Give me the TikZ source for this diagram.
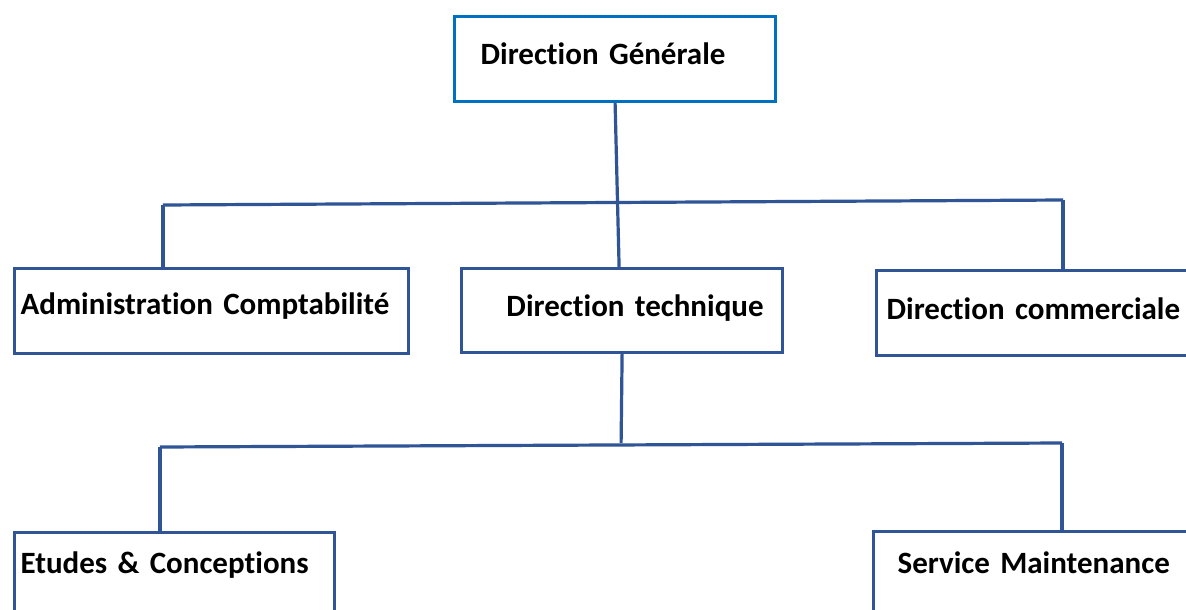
\documentclass[tikz,border=0pt]{standalone}
\usepackage{fontspec}
\setmainfont{Carlito}[Ligatures=NoCommon,WordSpace=0.85]
\usetikzlibrary{positioning,calc}
\definecolor{linkblue}{RGB}{47,85,151}
\definecolor{topblue}{RGB}{0,112,192}
\tikzset{
  unit/.style={draw=linkblue, line width=3.2pt, anchor=north west, inner ysep=0pt,
    font=\fontsize{31}{36}\selectfont\bfseries},
  link/.style={draw=linkblue, line width=3.2pt},
}
\begin{document}
\begin{tikzpicture}[x=1pt,y=-1pt]
  \useasboundingbox (0,0) rectangle (1186,610);
  \fill[white] (0,0) rectangle (1186,610);
  \clip (0,0) rectangle (1186,610);
  % top level
  \node[unit, draw=topblue, inner xsep=26pt, text width=269pt, align=left,
    text height=48pt, text depth=37pt] (dg) at (453,15) {Direction Générale};
  % second level
  \node[unit, inner xsep=6pt, text width=382pt, align=left,
    text height=46pt, text depth=39pt] (ac) at (13,267) {Administration Comptabilité};
  \node[unit, inner xsep=19pt, text width=283pt, align=right,
    text height=48pt, text depth=36pt] (dt) at (460,267) {Direction technique};
  \node[unit, inner xsep=10pt, text width=315pt, align=left,
    text height=49pt, text depth=36pt] (dc) at (875,269) {Direction commerciale};
  % third level
  \node[unit, inner xsep=6pt, text width=308pt, align=left,
    text height=41pt, text depth=100pt] (ec) at (13,531) {Etudes \& Conceptions};
  \node[unit, inner xsep=24pt, text width=291pt, align=left,
    text height=42pt, text depth=100pt] (sm) at (872,530) {Service Maintenance};
  % connectors
  \coordinate (busL) at (163,205);
  \coordinate (busR) at (1063,200);
  \draw[link] (dg.south) -- ([xshift=-3pt]dt.north);
  \draw[link] (busL) -- (busR);
  \draw[link] (busL) -- (busL |- ac.north);
  \draw[link] (busR) -- (busR |- dc.north);
  \coordinate (subL) at (160,447);
  \coordinate (subR) at (1062,443);
  \draw[link] (dt.south) -- ([xshift=-1pt]dt.south |- subR);
  \draw[link] (subL) -- (subR);
  \draw[link] (subL) -- (subL |- ec.north);
  \draw[link] (subR) -- (subR |- sm.north);
\end{tikzpicture}
\end{document}
